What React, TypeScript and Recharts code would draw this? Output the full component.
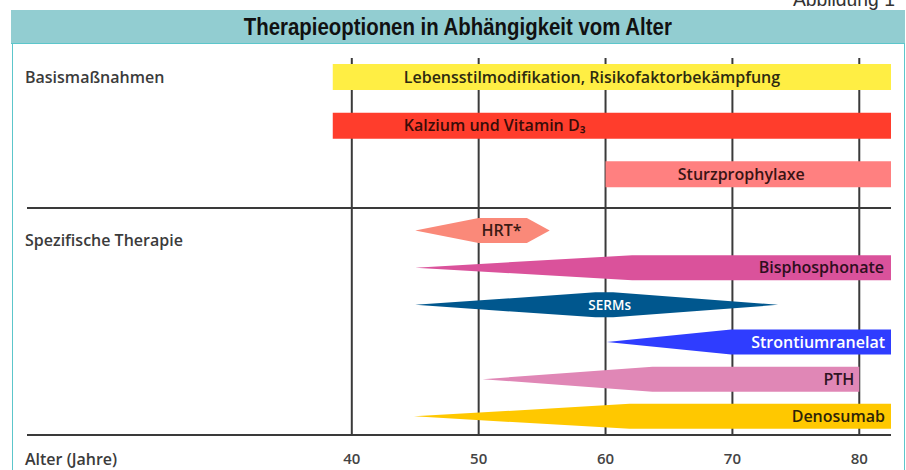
import { BarChart, Bar, XAxis, YAxis, CartesianGrid } from 'recharts';

const xTicks = [40, 50, 60, 70, 80];
const xDomain = [14.4, 82.5];

// Basismaßnahmen
const basisLabels = ['Lebensstilmodifikation, Risikofaktorbekämpfung', 'Kalzium und Vitamin D₃', 'Sturzprophylaxe'];
const basisStart = [38.5, 38.5, 60];
const basisEnd = [82.5, 82.5, 82.5];

// Spezifische Therapie (start, full width from, full width to, end)
const specLabels = ['HRT*', 'Bisphosphonate', 'SERMs', 'Strontiumranelat', 'PTH', 'Denosumab'];
const specStart = [45, 45, 45, 60.1, 50.3, 44.9];
const specFullFrom = [50, 62.1, 59.2, 69.9, 63.7, 61.9];
const specFullTo = [53.8, 82.5, 60.6, 82.5, 80, 82.5];
const specEnd = [55.6, 82.5, 73.6, 82.5, 80, 82.5];

type LabelStyle = { fill: string; text: string; align: 'start' | 'middle' | 'end'; offset: number; size?: number };

const basisStyles: LabelStyle[] = [
    { fill: '#FFEE44', text: '#2e2a10', align: 'start', offset: 71 },
    { fill: '#FF3D2C', text: '#3a0c08', align: 'start', offset: 71 },
    { fill: '#FF8080', text: '#3a1414', align: 'middle', offset: -7 },
];

const specStyles: LabelStyle[] = [
    { fill: '#FA8979', text: '#3a1a14', align: 'middle', offset: 19 },
    { fill: '#DA529B', text: '#2e0e20', align: 'end', offset: 7 },
    { fill: '#00578E', text: '#ffffff', align: 'middle', offset: 13, size: 13.5 },
    { fill: '#2F3DFF', text: '#ffffff', align: 'end', offset: 6 },
    { fill: '#E087B6', text: '#2e1422', align: 'end', offset: 5 },
    { fill: '#FFC800', text: '#2e2408', align: 'end', offset: 6 },
];

const basisData = basisLabels.map((label, i) => ({
    label,
    range: [basisStart[i], basisEnd[i]],
    fullFrom: basisStart[i],
    fullTo: basisEnd[i],
}));

const specData = specLabels.map((label, i) => ({
    label,
    range: [specStart[i], specEnd[i]],
    fullFrom: specFullFrom[i],
    fullTo: specFullTo[i],
}));

const FONT = "'Open Sans', 'Noto Sans', sans-serif";
const LINE = '#3a3a3a';

const makeShape = (styles: LabelStyle[]) => (props: any) => {
    const { x, y, width, height, payload, index } = props;
    const st = styles[index];
    const [s, e] = payload.range;
    const ppy = width / (e - s);
    const l = (payload.fullFrom - s) * ppy;
    const r = (e - payload.fullTo) * ppy;
    const cy = y + height / 2;
    const pts: number[][] = [];
    if (l > 0.5) pts.push([x, cy]);
    else pts.push([x, y + height], [x, y]);
    pts.push([x + l, y], [x + width - r, y]);
    if (r > 0.5) pts.push([x + width, cy]);
    else pts.push([x + width, y], [x + width, y + height]);
    pts.push([x + width - r, y + height], [x + l, y + height]);

    let tx = x + width / 2 + st.offset;
    if (st.align === 'start') tx = x + st.offset;
    if (st.align === 'end') tx = x + width - st.offset;

    return (
        <g>
            <polygon points={pts.map((p) => p.join(',')).join(' ')} fill={st.fill} />
            <text
                x={tx}
                y={cy}
                dy="0.36em"
                textAnchor={st.align}
                fontFamily={FONT}
                fontWeight={600}
                fontSize={st.size ?? 16}
                fill={st.text}
            >
                {payload.label}
            </text>
        </g>
    );
};

const gridLine = (offsetTop: number) => (p: any) => (
    <line key={p.key} x1={p.x1} x2={p.x2} y1={p.y1 + offsetTop} y2={p.y2} stroke={LINE} strokeWidth={2} />
);

const sideLabel: React.CSSProperties = {
    position: 'absolute',
    left: 25,
    fontFamily: FONT,
    fontWeight: 600,
    fontSize: 16,
    color: '#3b3b3b',
    lineHeight: '20px',
    whiteSpace: 'nowrap',
};

export default function App() {
    return (
        <div style={{ position: 'fixed', left: 0, top: 0, width: 906, height: 470, background: '#fff', overflow: 'hidden' }}>
            <div
                style={{
                    position: 'absolute',
                    right: 11,
                    top: -13,
                    fontFamily: "'Liberation Sans', sans-serif",
                    fontSize: 21,
                    lineHeight: '24px',
                    color: '#333',
                    transform: 'scaleX(0.92)',
                    transformOrigin: 'right',
                    whiteSpace: 'nowrap',
                }}
            >
                Abbildung 1
            </div>
            <div
                style={{
                    position: 'absolute',
                    left: 12,
                    top: 44,
                    width: 891,
                    height: 440,
                    borderLeft: '1.5px solid #5CC6CB',
                    borderRight: '1.5px solid #5CC6CB',
                }}
            />
            <div
                style={{
                    position: 'absolute',
                    left: 11,
                    top: 10,
                    width: 894,
                    height: 33,
                    background: '#92CDD1',
                    borderBottom: '1.5px solid #5CC6CB',
                    textAlign: 'center',
                    fontFamily: "'Liberation Sans', sans-serif",
                    fontWeight: 700,
                    fontSize: 24,
                    lineHeight: '33px',
                    color: '#111',
                }}
            >
                <span style={{ display: 'inline-block', transform: 'scaleX(0.85)' }}>
                    Therapieoptionen in Abhängigkeit vom Alter
                </span>
            </div>

            <div style={{ ...sideLabel, top: 67 }}>Basismaßnahmen</div>
            <div style={{ ...sideLabel, top: 230 }}>Spezifische Therapie</div>
            <div style={{ ...sideLabel, top: 449 }}>Alter (Jahre)</div>

            <div style={{ position: 'absolute', left: 0, top: 0 }}>
                <BarChart
                    width={906}
                    height={210}
                    data={basisData}
                    layout="vertical"
                    margin={{ top: 53, right: 15, left: 27, bottom: 1 }}
                >
                    <CartesianGrid horizontal={false} vertical={gridLine(5)} syncWithTicks />
                    <XAxis
                        type="number"
                        domain={xDomain}
                        ticks={xTicks}
                        allowDataOverflow
                        height={1}
                        tick={() => <g />}
                        tickLine={false}
                        axisLine={{ stroke: LINE, strokeWidth: 2 }}
                    />
                    <YAxis type="category" dataKey="label" hide axisLine={false} padding={{ top: 0, bottom: 9 }} />
                    <Bar dataKey="range" barSize={26} isAnimationActive={false} shape={makeShape(basisStyles)} />
                </BarChart>
            </div>

            <div style={{ position: 'absolute', left: 0, top: 0 }}>
                <BarChart
                    width={906}
                    height={470}
                    data={specData}
                    layout="vertical"
                    margin={{ top: 208, right: 15, left: 27, bottom: 0 }}
                >
                    <CartesianGrid horizontal={false} vertical={gridLine(0)} syncWithTicks />
                    <XAxis
                        type="number"
                        domain={xDomain}
                        ticks={xTicks}
                        allowDataOverflow
                        height={35}
                        tickLine={false}
                        tickMargin={12}
                        axisLine={{ stroke: LINE, strokeWidth: 2 }}
                        tick={{ fontFamily: FONT, fontWeight: 600, fontSize: 15, fill: '#444' }}
                    />
                    <YAxis type="category" dataKey="label" hide axisLine={false} padding={{ top: 4, bottom: 0 }} />
                    <Bar dataKey="range" barSize={25} isAnimationActive={false} shape={makeShape(specStyles)} />
                </BarChart>
            </div>
        </div>
    );
}
